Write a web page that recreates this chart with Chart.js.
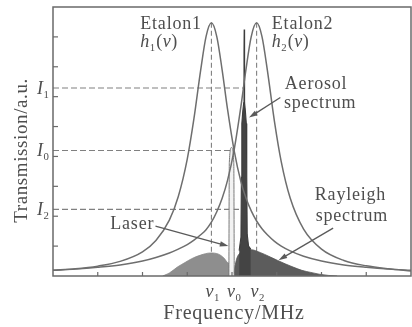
<!DOCTYPE html>
<html><head><meta charset="utf-8">
<script src="https://cdn.jsdelivr.net/npm/chart.js@4.4.0/dist/chart.umd.min.js"></script>
<style>html,body{margin:0;padding:0;background:#fff;}#wrap{width:412px;height:327px;}</style>
</head><body><div id="wrap"><canvas id="c" width="412" height="327"></canvas></div>
<script>
// ---- data (frequency in axis units, transmission in a.u.) ----
const freq     = [0, 0.5, 1, 1.5, 2, 2.3, 2.6, 2.8, 3.0, 3.15, 3.3, 3.42, 3.54, 3.66, 3.78, 3.9, 4.05, 4.2, 4.31, 4.43, 4.55, 4.67, 4.79, 4.95, 5.1, 5.3, 5.6, 6.0, 6.5, 7.0, 7.5, 8.0];
const etalon1  = [0.19, 0.24, 0.33, 0.49, 0.81, 1.19, 1.87, 2.66, 3.91, 5.27, 6.89, 8.01, 8.47, 8.01, 6.89, 5.58, 4.18, 3.15, 2.62, 2.18, 1.84, 1.58, 1.38, 1.16, 1.0, 0.84, 0.66, 0.5, 0.37, 0.29, 0.23, 0.19];
const etalon2  = [0.19, 0.23, 0.29, 0.37, 0.5, 0.62, 0.77, 0.9, 1.05, 1.2, 1.38, 1.55, 1.8, 2.15, 2.6, 3.2, 4.24, 5.68, 6.89, 8.01, 8.47, 8.01, 6.89, 5.16, 3.83, 2.61, 1.57, 0.9, 0.52, 0.34, 0.24, 0.17];
const aerosolFreq = [4.16, 4.2, 4.21, 4.22, 4.24, 4.262, 4.268, 4.272, 4.278, 4.285, 4.3, 4.32, 4.33, 4.34, 4.37, 4.42];
const aerosol     = [0.85, 1.3, 3.3, 5.1, 5.5, 5.8, 7.5, 8.25, 7.5, 5.8, 5.5, 5.1, 3.3, 1.4, 1.0, 0.9];
const laserFreq = [3.93, 3.94, 3.99, 4.04, 4.05];
const laser     = [0, 3.8, 4.3, 3.8, 0];
const rayleighLeftFreq = [2.45, 2.6, 2.78, 2.95, 3.1, 3.3, 3.52, 3.7, 3.82, 3.9, 3.95, 3.97];
const rayleighLeft     = [0, 0.1, 0.3, 0.45, 0.58, 0.7, 0.77, 0.73, 0.6, 0.45, 0.35, 0];
const rayleighRightFreq = [4.03, 4.1, 4.2, 4.3, 4.42, 4.64, 4.82, 5.02, 5.2, 5.38, 5.56, 5.76, 5.95, 6.15, 6.35];
const rayleighRight     = [0, 0.55, 0.8, 0.88, 0.88, 0.78, 0.66, 0.52, 0.4, 0.29, 0.19, 0.12, 0.06, 0.02, 0];
const levelNames = ['1', '0', '2'];           // I1, I0, I2
const levels     = [6.29, 4.2, 2.23];
const levelEnds  = [4.25, 4.03, 4.25];
const markerNames = ['1', '0', '2'];          // ν1, ν0, ν2
const markerFreq  = [3.54, 4.02, 4.55];
const xTicks = [1, 2, 3, 4, 5, 6, 7];
const yTicks = [1, 2, 3, 4, 5, 6, 7, 8];

const pts = (xs, ys) => xs.map((x, i) => ({x, y: ys[i]}));
const LINE = '#6e6e6e', TEXT = '#4e4e4e', SERIF = '"Liberation Serif", "Times New Roman", serif';

const deco = {
  id: 'deco',
  beforeDatasetsDraw(chart) {
    const {ctx, scales: {x, y}} = chart;
    ctx.save();
    ctx.strokeStyle = '#808080'; ctx.lineWidth = 1.1; ctx.setLineDash([6, 3]);
    levels.forEach((v, i) => {
      ctx.beginPath(); ctx.moveTo(x.getPixelForValue(0), y.getPixelForValue(v));
      ctx.lineTo(x.getPixelForValue(levelEnds[i]), y.getPixelForValue(v)); ctx.stroke();
    });
    ctx.setLineDash([5, 3]);
    [[markerFreq[0], Math.max(...etalon1)], [markerFreq[2], Math.max(...etalon2)]].forEach(([f, top]) => {
      ctx.beginPath(); ctx.moveTo(x.getPixelForValue(f), y.getPixelForValue(top));
      ctx.lineTo(x.getPixelForValue(f), y.getPixelForValue(0)); ctx.stroke();
    });
    ctx.restore();
  },
  afterDatasetsDraw(chart) {
    const {ctx, chartArea: a, scales: {x, y}} = chart;
    const X = v => x.getPixelForValue(v), Y = v => y.getPixelForValue(v);
    ctx.save();
    ctx.strokeStyle = '#6a6a6a'; ctx.lineWidth = 1.5; ctx.setLineDash([]);
    ctx.strokeRect(a.left, a.top, a.right - a.left, a.bottom - a.top);
    ctx.lineWidth = 1.2;
    yTicks.forEach(t => { ctx.beginPath(); ctx.moveTo(a.left, Y(t)); ctx.lineTo(a.left + 5, Y(t)); ctx.stroke(); });
    xTicks.forEach(t => { ctx.beginPath(); ctx.moveTo(X(t), a.bottom); ctx.lineTo(X(t), a.bottom - 4); ctx.stroke(); });

    ctx.fillStyle = TEXT;
    const txt = (s, px, py, size, opts = {}) => {
      ctx.font = (opts.italic ? 'italic ' : '') + size + 'px ' + SERIF;
      ctx.letterSpacing = (opts.ls ?? 0.8) + 'px';
      ctx.textAlign = opts.align || 'left'; ctx.textBaseline = 'alphabetic';
      ctx.fillText(s, px, py);
      return ctx.measureText(s).width;
    };
    const run = (pieces, px, py, size) => {
      let cx = px;
      pieces.forEach(([s, it, sub]) => {
        const sz = sub ? size * 0.6 : size;
        const w = txt(s, cx, py + (sub ? size * 0.22 : 0), sz, {italic: it, ls: 0});
        cx += w + (sub ? 1 : 0.5);
      });
    };
    txt('Etalon1', X(1.95), Y(8.27), 18);
    run([['h', true], ['1', false, true], ['(', false], ['ν', true], [')', false]], X(1.95), Y(7.65), 18);
    txt('Etalon2', X(4.89), Y(8.27), 18);
    run([['h', true], ['2', false, true], ['(', false], ['ν', true], [')', false]], X(4.89), Y(7.65), 18);
    txt('Aerosol', X(5.18), Y(6.27), 18);
    txt('spectrum', X(5.16), Y(5.63), 18);
    txt('Rayleigh', X(5.85), Y(2.53), 18);
    txt('spectrum', X(5.87), Y(1.83), 18);
    txt('Laser', X(1.28), Y(1.57), 18);
    levels.forEach((v, i) => run([['I', true], [levelNames[i], false, true]], a.left - 16, Y(v) + 6, 18));
    markerFreq.forEach((f, i) => run([['ν', true], [markerNames[i], false, true]], X(f) - 6, a.bottom + 21, 18));
    txt('Frequency/MHz', (a.left + a.right) / 2 + 2, a.bottom + 43, 20, {align: 'center', ls: 0.8});
    ctx.save(); ctx.translate(27, Y(4.2)); ctx.rotate(-Math.PI / 2);
    txt('Transmission/a.u.', 0, 0, 19, {align: 'center', ls: 0.6});
    ctx.restore();
    const arrow = (x1, y1, x2, y2) => {
      const p1 = [X(x1), Y(y1)], p2 = [X(x2), Y(y2)];
      const ang = Math.atan2(p2[1] - p1[1], p2[0] - p1[0]);
      ctx.strokeStyle = '#5a5a5a'; ctx.fillStyle = '#5a5a5a'; ctx.lineWidth = 1.3;
      ctx.beginPath(); ctx.moveTo(p1[0], p1[1]); ctx.lineTo(p2[0] - 6 * Math.cos(ang), p2[1] - 6 * Math.sin(ang)); ctx.stroke();
      ctx.beginPath(); ctx.moveTo(p2[0], p2[1]);
      ctx.lineTo(p2[0] - 9 * Math.cos(ang - 0.3), p2[1] - 9 * Math.sin(ang - 0.3));
      ctx.lineTo(p2[0] - 9 * Math.cos(ang + 0.3), p2[1] - 9 * Math.sin(ang + 0.3));
      ctx.closePath(); ctx.fill();
    };
    arrow(2.29, 1.67, 3.92, 1.0);
    arrow(5.08, 5.97, 4.38, 5.3);
    arrow(6.26, 1.6, 5.04, 0.53);
    ctx.restore();
  }
};

new Chart(document.getElementById('c'), {
  type: 'scatter',
  data: {
    datasets: [
      {data: pts(freq, etalon1), borderColor: LINE, borderWidth: 1.5, order: 1},
      {data: pts(freq, etalon2), borderColor: LINE, borderWidth: 1.5, order: 1},
      {data: pts(laserFreq, laser), borderColor: '#7a7a7a', borderWidth: 1, backgroundColor: '#f2f2f2', fill: 'origin', order: 2, tension: 0},
      {data: pts(aerosolFreq, aerosol), borderColor: '#3c3c3c', borderWidth: 1.1, backgroundColor: '#444', fill: 'origin', order: 3, cubicInterpolationMode: 'default', tension: 0},
      {data: pts(rayleighRightFreq, rayleighRight), borderColor: '#555', borderWidth: 0.8, backgroundColor: '#5c5c5c', fill: 'origin', order: 4},
      {data: pts(rayleighLeftFreq, rayleighLeft), borderColor: '#888', borderWidth: 0.8, backgroundColor: '#8e8e8e', fill: 'origin', order: 5}
    ].map(d => Object.assign({showLine: true, pointRadius: 0, cubicInterpolationMode: 'monotone'}, d))
  },
  options: {
    responsive: false, animation: false, devicePixelRatio: 1,
    layout: {padding: {left: 53, top: 7, right: 1, bottom: 51}},
    plugins: {legend: {display: false}, tooltip: {enabled: false}},
    scales: {
      x: {type: 'linear', min: 0, max: 8, display: false},
      y: {type: 'linear', min: 0, max: 9, display: false}
    }
  },
  plugins: [deco]
});
</script></body></html>
